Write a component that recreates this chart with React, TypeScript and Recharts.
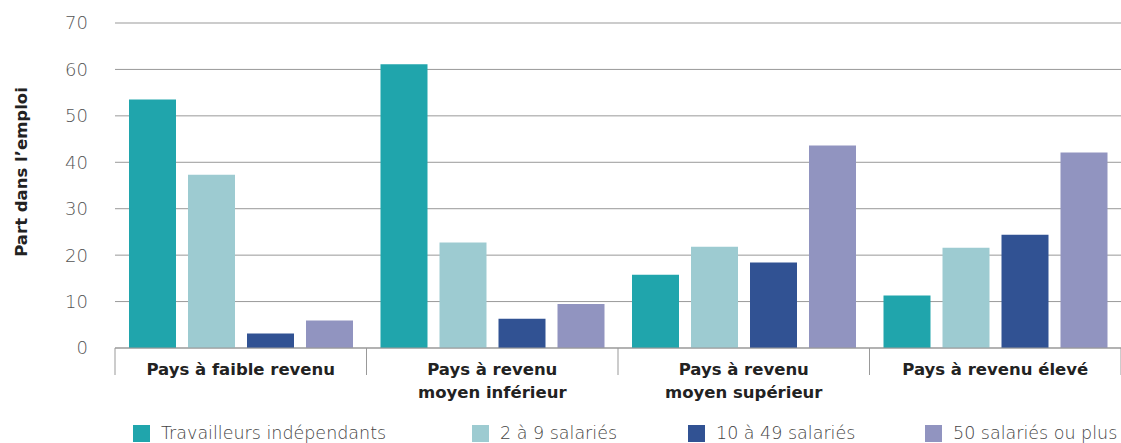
import React from "react";
import { BarChart, Bar, XAxis, YAxis, CartesianGrid, Legend } from "recharts";

const categories = [
  "Pays à faible revenu",
  "Pays à revenu\nmoyen inférieur",
  "Pays à revenu\nmoyen supérieur",
  "Pays à revenu élevé",
];
const independants = [53.5, 61.1, 15.8, 11.3];
const small = [37.3, 22.7, 21.8, 21.6];
const medium = [3.1, 6.3, 18.4, 24.4];
const large = [5.9, 9.5, 43.6, 42.1];
const yTicks = [0, 10, 20, 30, 40, 50, 60, 70];

const seriesNames = [
  "Travailleurs indépendants",
  "2 à 9 salariés",
  "10 à 49 salariés",
  "50 salariés ou plus",
];
const colors = ["#20A5AC", "#9DCBD1", "#315293", "#9194C0"];

const data = categories.map((c, i) => ({
  name: c,
  a: independants[i],
  b: small[i],
  c: medium[i],
  d: large[i],
}));

const W = 1121;
const H = 443;
const PLOT_LEFT = 115;
const BAND = (W - PLOT_LEFT) / categories.length;
const FONT = "'DejaVu Sans', sans-serif";
const legendItemWidths = [339, 216, 237, 196];

const CatTick = (props: any) => {
  const { x, y, payload, index } = props;
  const lines = String(payload.value).split("\n");
  const left = x - BAND / 2;
  return (
    <g>
      <line x1={left} y1={y} x2={left} y2={y + 27} stroke="#999" strokeWidth={1} />
      {index === categories.length - 1 && (
        <line x1={left + BAND} y1={y} x2={left + BAND} y2={y + 27} stroke="#999" strokeWidth={1} />
      )}
      <text
        x={x}
        y={y + 27}
        textAnchor="middle"
        fill="#222"
        fontFamily={FONT}
        fontWeight="bold"
        fontSize={16.5}
      >
        {lines.map((l, i) => (
          <tspan key={i} x={x} dy={i === 0 ? 0 : 23}>
            {l}
          </tspan>
        ))}
      </text>
    </g>
  );
};

const LegendContent = () => (
  <div
    style={{
      display: "flex",
      alignItems: "center",
      paddingLeft: 133,
      paddingTop: 18,
      fontFamily: FONT,
      fontSize: 17.5,
      fontWeight: 300,
      color: "#444",
      whiteSpace: "nowrap",
    }}
  >
    {seriesNames.map((n, i) => (
      <div
        key={n}
        style={{ display: "flex", alignItems: "center", width: legendItemWidths[i], flexShrink: 0 }}
      >
        <span
          style={{
            display: "inline-block",
            width: 17,
            height: 17,
            background: colors[i],
            marginRight: 11,
            flexShrink: 0,
          }}
        />
        <span style={{ lineHeight: "18px" }}>{n}</span>
      </div>
    ))}
  </div>
);

const YLabel = () => (
  <text
    x={0}
    y={0}
    transform={`translate(27, 172) rotate(-90)`}
    textAnchor="middle"
    fill="#222"
    fontFamily={FONT}
    fontWeight="bold"
    fontSize={16.5}
  >
    Part dans l’emploi
  </text>
);

export default function App() {
  React.useEffect(() => {
    document.body.style.margin = "0";
  }, []);
  return (
    <div style={{ width: W, height: H, background: "#fff", overflow: "hidden" }}>
      <BarChart
        width={W}
        height={H}
        data={data}
        margin={{ top: 23, right: 0, left: 0, bottom: 0 }}
        barCategoryGap={14}
        barGap={12}
      >
        <CartesianGrid vertical={false} stroke="#999" strokeWidth={1} />
        <XAxis
          dataKey="name"
          interval={0}
          height={58}
          tickLine={false}
          tickSize={0}
          tickMargin={0}
          axisLine={{ stroke: "#999" }}
          tick={<CatTick />}
        />
        <YAxis
          width={PLOT_LEFT}
          domain={[0, 70]}
          ticks={yTicks}
          interval={0}
          axisLine={false}
          tickLine={false}
          tickSize={0}
          tickMargin={27}
          tick={{ fill: "#555", fontSize: 18, fontFamily: FONT, fontWeight: 300 }}
          label={<YLabel />}
        />
        <Legend verticalAlign="bottom" height={37} content={<LegendContent />} />
        <Bar dataKey="a" name={seriesNames[0]} fill={colors[0]} isAnimationActive={false} />
        <Bar dataKey="b" name={seriesNames[1]} fill={colors[1]} isAnimationActive={false} />
        <Bar dataKey="c" name={seriesNames[2]} fill={colors[2]} isAnimationActive={false} />
        <Bar dataKey="d" name={seriesNames[3]} fill={colors[3]} isAnimationActive={false} />
      </BarChart>
    </div>
  );
}
